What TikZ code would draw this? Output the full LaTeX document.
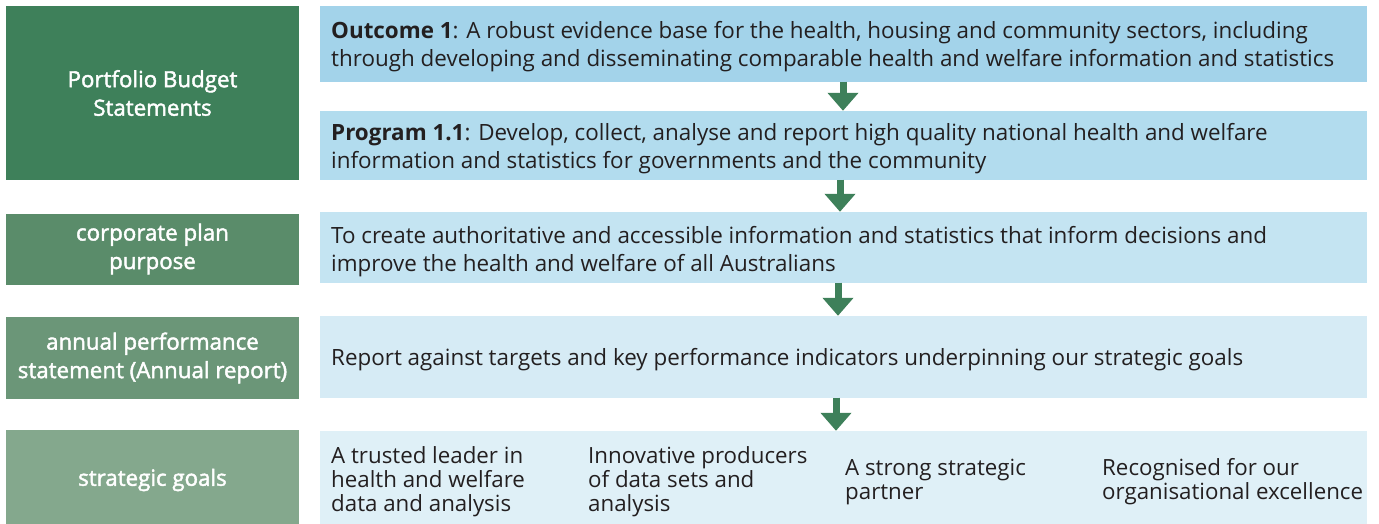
\documentclass[tikz,border=0pt]{standalone}
\usepackage{fontspec}
\setmainfont{Open Sans}
\newfontfamily\semib[FakeBold=1.9]{Open Sans}
\usetikzlibrary{arrows.meta}
\definecolor{g1}{RGB}{62,128,90}
\definecolor{g2}{RGB}{90,140,106}
\definecolor{g3}{RGB}{107,150,120}
\definecolor{g4}{RGB}{132,168,141}
\definecolor{b1}{RGB}{163,211,234}
\definecolor{b2}{RGB}{178,220,238}
\definecolor{b3}{RGB}{196,228,242}
\definecolor{b4}{RGB}{214,235,245}
\definecolor{b5}{RGB}{223,240,247}
\definecolor{txt}{RGB}{35,31,32}
\definecolor{arrc}{RGB}{62,128,90}
\tikzset{
  lbox/.style={minimum width=293pt, inner sep=0pt, text=white, align=center,
    font=\semib\fontsize{22.3}{28.5}\selectfont},
  rbox/.style={minimum width=1047pt, inner sep=0pt},
  rtxt/.style={anchor=west, inner sep=0pt, text=txt, align=left,
    font=\fontsize{22.4}{28}\selectfont},
  gtxt/.style={anchor=west, inner sep=0pt, text=txt, align=left,
    font=\fontsize{22.3}{24}\selectfont},
  arr/.style={draw=arrc, line width=7pt, -{Triangle[width=30pt,length=18pt]}, shorten <=-0.5pt},
}
\begin{document}
\begin{tikzpicture}[x=1pt,y=-1pt]
\useasboundingbox (0,0) rectangle (1379,524);
% left boxes
\node[lbox, fill=g1, minimum height=174pt] (L1) at (152.5,93) {Portfolio Budget\\Statements};
\node[lbox, fill=g2, minimum height=71pt] (L2) at (152.5,249) {corporate plan\\purpose};
\node[lbox, fill=g3, minimum height=82pt] (L3) at (152.5,358) {annual performance\\statement (Annual report)};
\node[lbox, fill=g4, minimum height=94pt] (L4) at (152.5,477) {};
\node[lbox, anchor=center] (L4t) at (152.5,480) {strategic goals};
% right boxes
\node[rbox, fill=b1, minimum height=76pt] (R1) at (843.5,44) {};
\node[rbox, fill=b2, minimum height=69pt] (R2) at (843.5,145.5) {};
\node[rbox, fill=b3, minimum height=71pt] (R3) at (843.5,247.5) {};
\node[rbox, fill=b4, minimum height=82pt] (R4) at (843.5,357) {};
\node[rbox, fill=b5, minimum height=93pt] (R5) at (843.5,477.5) {};
% texts
\node[rtxt] (T1) at (331,47) {\textbf{Outcome 1}: A robust evidence base for the health, housing and community sectors, including\\through developing and disseminating comparable health and welfare information and statistics};
\node[rtxt] (T2) at (331,149) {\textbf{Program 1.1}: Develop, collect, analyse and report high quality national health and welfare\\information and statistics for governments and the community};
\node[rtxt] (T3) at (331,251.5) {To create authoritative and accessible information and statistics that inform decisions and\\improve the health and welfare of all Australians};
\node[rtxt] (T4) at (331,359.5) {Report against targets and key performance indicators underpinning our strategic goals};
\node[gtxt] (G1) at (331,482) {A trusted leader in\\health and welfare\\data and analysis};
\node[gtxt] (G2) at (588,482) {Innovative producers\\of data sets and\\analysis};
\node[gtxt] (G3) at (845,482) {A strong strategic\\partner};
\node[gtxt] (G4) at (1102,482) {Recognised for our\\organisational excellence};
% arrows
\draw[arr] ([xshift=-0.5pt]R1.south) -- ([xshift=-0.5pt]R2.north);
\draw[arr] ([xshift=-3.5pt]R2.south) -- ([xshift=-3.5pt]R3.north);
\draw[arr] ([xshift=-5.5pt]R3.south) -- ([xshift=-5.5pt]R4.north);
\draw[arr] ([xshift=-7.5pt]R4.south) -- ([xshift=-7.5pt]R5.north);
\end{tikzpicture}
\end{document}
